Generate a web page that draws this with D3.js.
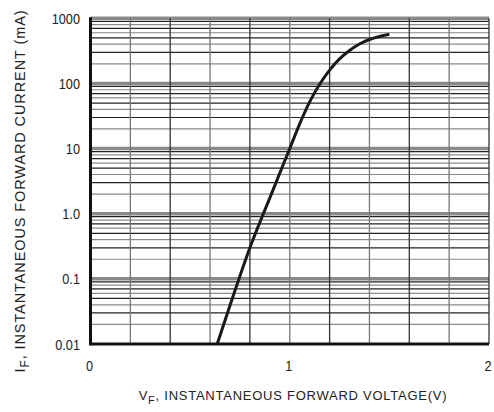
<!DOCTYPE html>
<html>
  <head>
    <meta charset="utf-8">
    <script src="https://cdn.jsdelivr.net/npm/d3@7/dist/d3.min.js"></script>
    <style>
    body{ margin:0; background:#fff; }
    text{ font-family:"Liberation Sans",Arial,sans-serif; fill:#222; }
    </style>
  </head>
  <body>
    <div id="graph"></div>
    <script>
    // forward voltage (V) vs forward current (mA)
    var voltage = [0.636, 0.70, 0.80, 0.90, 0.95, 1.00, 1.05, 1.10, 1.15, 1.20, 1.25, 1.30, 1.35, 1.40, 1.45, 1.50];
    var current = [0.01, 0.039, 0.30, 1.75, 4.2, 10, 24, 52, 97, 160, 238, 321, 403, 473, 526, 569];
    var xTicks = [0, 1, 2];
    var yTicks = [0.01, 0.1, 1, 10, 100, 1000];
    var yTickLabels = ["0.01", "0.1", "1.0", "10", "100", "1000"];

    var width = 494, height = 412;
    var svg = d3.select('#graph').append('svg').attr('width', width).attr('height', height);

    var x = d3.scaleLinear().domain([0, 2]).range([90.5, 489]);
    var y = d3.scaleLog().domain([0.01, 1000]).range([344, 18.3]);

    // horizontal grid: every 1..9 of each decade
    var minor = [];
    for (var d = -2; d < 3; d++) {
      for (var k = 1; k < 10; k++) minor.push({v: k * Math.pow(10, d), k: k});
    }
    minor.push({v: 1000, k: 1});
    svg.selectAll('line.h').data(minor).enter().append('line')
      .attr('x1', x(0)).attr('x2', x(2))
      .attr('y1', function(d){ return y(d.v); })
      .attr('y2', function(d){ return y(d.v); })
      .attr('stroke', function(d){ return d.k == 1 || d.k % 2 == 0 ? '#8a8a8a' : '#222'; })
      .attr('stroke-width', function(d){ return d.k == 1 ? (d.v == 0.01 ? 0 : 3.5) : 1.2; });

    // vertical grid every 0.2 V
    var vgrid = d3.range(1, 11).map(function(i){ return i * 0.2; });
    svg.selectAll('line.v').data(vgrid).enter().append('line')
      .attr('y1', y(0.01)).attr('y2', y(1000))
      .attr('x1', function(d){ return x(d); })
      .attr('x2', function(d){ return x(d); })
      .attr('stroke', function(d, i){ return i % 2 ? '#333' : '#777'; })
      .attr('stroke-width', 1.3);

    // axes lines
    svg.append('line').attr('x1', x(0)).attr('x2', x(0)).attr('y1', y(1000) - 1).attr('y2', y(0.01) + 1.5)
      .attr('stroke', '#111').attr('stroke-width', 3);
    svg.append('line').attr('x1', x(0)).attr('x2', x(2)).attr('y1', y(0.01)).attr('y2', y(0.01))
      .attr('stroke', '#111').attr('stroke-width', 3);

    // tick labels (condensed digits like the datasheet)
    svg.selectAll('text.yt').data(yTicks).enter().append('text')
      .attr('transform', function(d){ return 'translate(80,' + (y(d) + 5.5) + ') scale(0.85,1)'; })
      .attr('text-anchor', 'end').attr('font-size', 15)
      .text(function(d, i){ return yTickLabels[i]; });
    svg.selectAll('text.xt').data(xTicks).enter().append('text')
      .attr('transform', function(d){ return 'translate(' + (x(d) - 1) + ',371) scale(0.85,1)'; })
      .attr('text-anchor', 'middle').attr('font-size', 15)
      .text(function(d){ return d; });

    // curve
    var pts = voltage.map(function(v, i){ return [v, current[i]]; });
    var line = d3.line().curve(d3.curveMonotoneX)
      .x(function(d){ return x(d[0]); })
      .y(function(d){ return y(d[1]); });
    svg.append('path').datum(pts).attr('d', line)
      .attr('fill', 'none').attr('stroke', '#1a1a1a').attr('stroke-width', 3);

    // axis titles
    var xt = svg.append('text').attr('x', 293).attr('y', 400).attr('text-anchor', 'middle')
      .attr('font-size', 13).attr('letter-spacing', 0.75);
    xt.append('tspan').text('V');
    xt.append('tspan').attr('dy', 4).attr('font-size', 11).text('F');
    xt.append('tspan').attr('dy', -4).text(', INSTANTANEOUS FORWARD VOLTAGE(V)');

    var yt = svg.append('text').attr('transform', 'translate(25,191) rotate(-90)')
      .attr('text-anchor', 'middle').attr('font-size', 14.5).attr('letter-spacing', 0.9);
    yt.append('tspan').text('I');
    yt.append('tspan').attr('dy', 4).attr('font-size', 12).text('F');
    yt.append('tspan').attr('dy', -4).text(', INSTANTANEOUS FORWARD CURRENT (mA)');
    </script>
  </body>
</html>
